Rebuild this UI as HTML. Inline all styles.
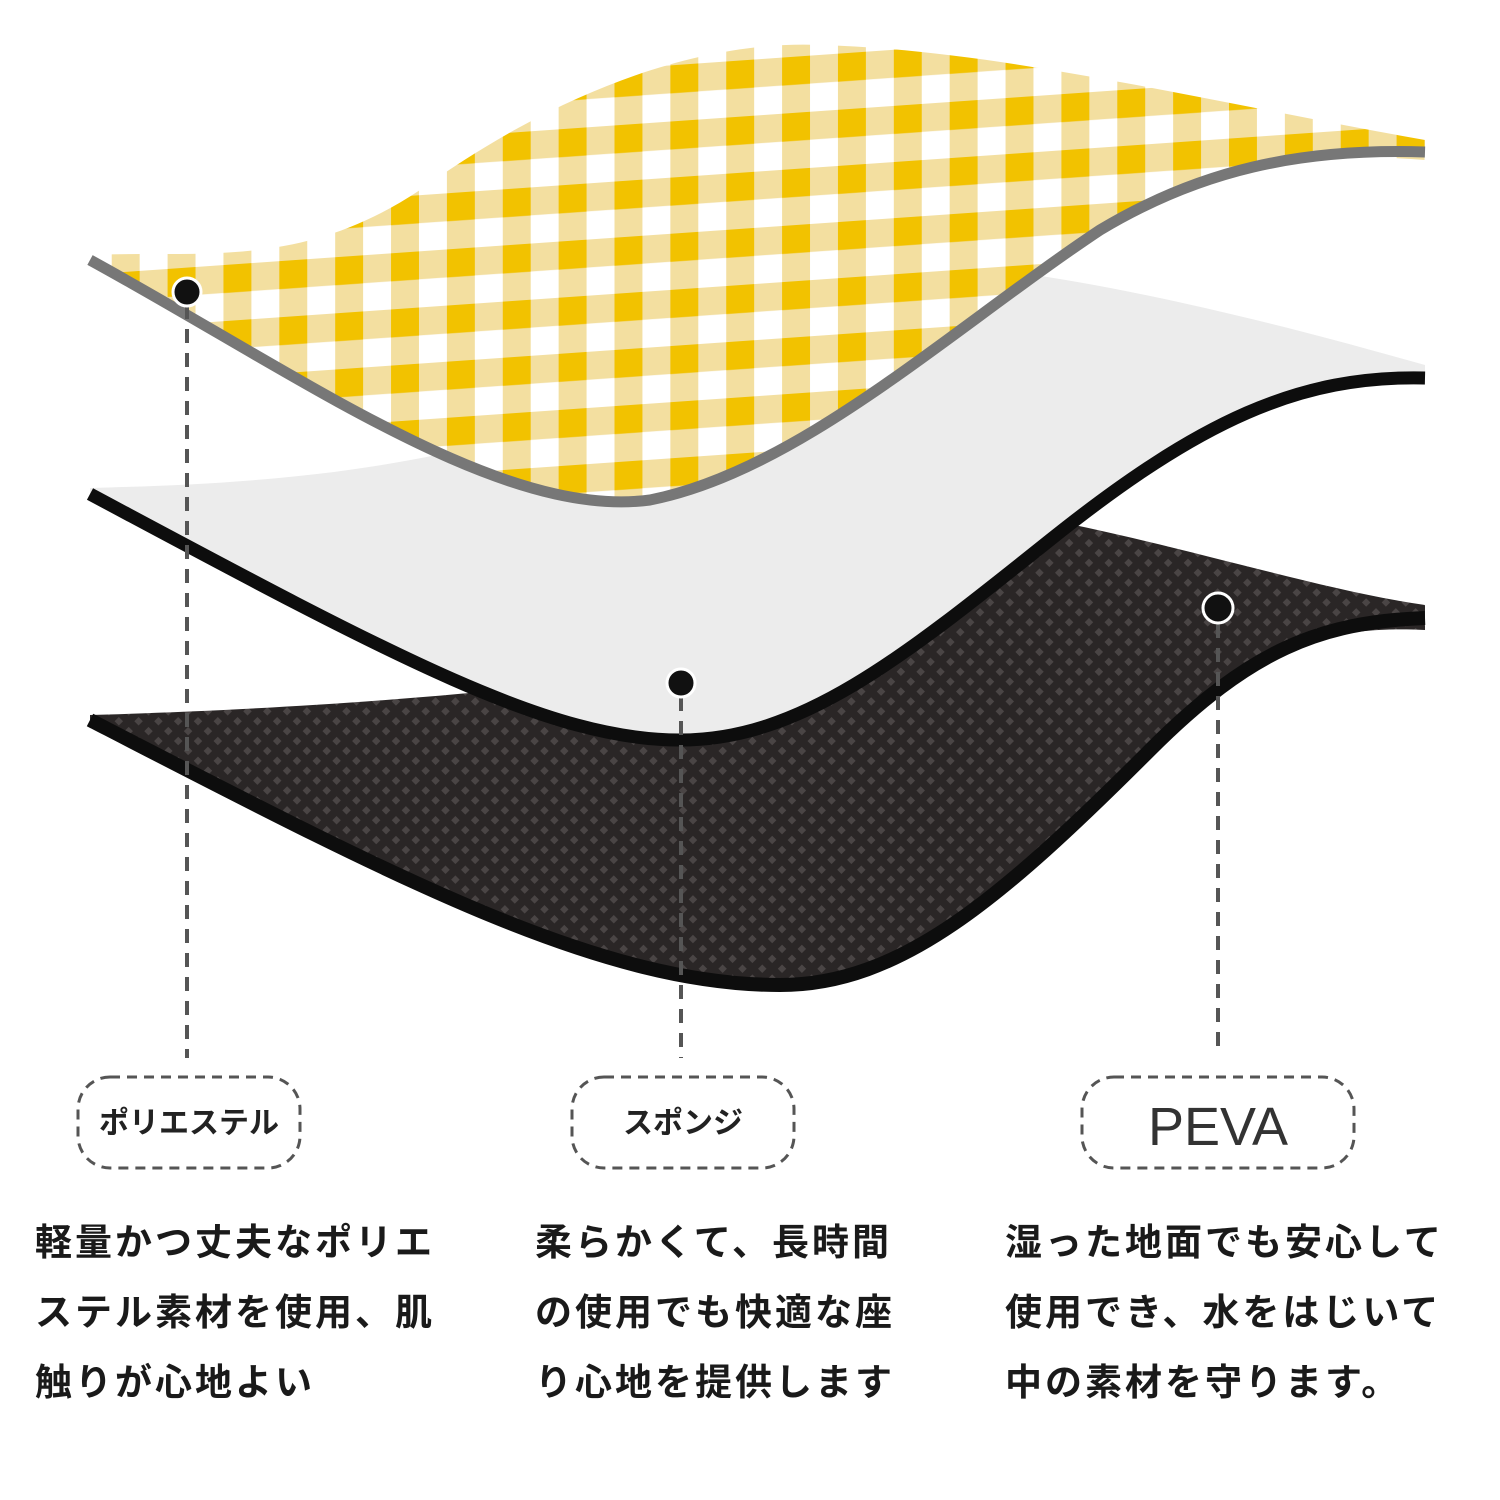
<!DOCTYPE html>
<html><head><meta charset="utf-8"><style>
html,body{margin:0;padding:0;background:#fff}
svg{display:block}
text{font-family:"Liberation Sans","Noto Sans CJK JP",sans-serif}
.b{font-size:37px;font-weight:bold;fill:#1a1a1a;letter-spacing:3px}
</style></head><body>
<svg width="1500" height="1500" viewBox="0 0 1500 1500" xmlns="http://www.w3.org/2000/svg">
<defs>
<pattern id="ging" width="56" height="56" patternUnits="userSpaceOnUse" patternTransform="rotate(-4) skewX(-4)">
<rect width="56" height="56" fill="#fdfaf0"/>
<rect x="0" y="0" width="28" height="56" fill="#f3dfa0"/>
<rect x="0" y="0" width="56" height="28" fill="#f3dfa0"/>
<rect x="0" y="0" width="28" height="28" fill="#f2c200"/>
<rect x="28" y="28" width="28" height="28" fill="#ffffff"/>
</pattern>
<pattern id="mesh" width="14" height="14" patternUnits="userSpaceOnUse" patternTransform="rotate(45)">
<rect width="14" height="14" fill="#2a2626"/>
<rect x="3" y="3" width="6" height="6" fill="#4a4545"/>
</pattern>
</defs>

<!-- dark layer -->
<path d="M90,715 C200,712 350,705 500,690 L1050,520 C1200,550 1320,590 1425,605 L1425,630 C1320,625 1250,650 1150,750 C1000,900 900,985 780,985 C600,985 400,880 90,725 Z" fill="url(#mesh)"/>
<path d="M90,720 C400,880 600,985 780,985 C900,985 1000,900 1150,750 C1250,650 1320,622 1425,618" fill="none" stroke="#0d0d0d" stroke-width="14"/>

<!-- white layer -->
<path d="M90,488 C200,485 350,480 500,440 L1000,270 C1150,290 1300,330 1425,365 L1425,385 C1300,370 1200,420 1050,540 C900,660 800,740 680,740 C550,740 400,660 90,500 Z" fill="#ececec"/>
<path d="M90,494 C400,660 550,740 680,740 C800,740 900,660 1050,540 C1200,420 1300,375 1425,378" fill="none" stroke="#0d0d0d" stroke-width="13"/>

<!-- yellow layer -->
<path d="M90,255 C200,250 300,270 420,190 C560,90 700,40 820,45 C1000,50 1200,100 1425,140 L1425,160 C1300,150 1200,170 1100,230 C950,330 800,470 650,500 C500,525 300,380 90,265 Z" fill="url(#ging)"/>
<path d="M90,260 C300,375 500,520 650,500 C800,470 950,330 1100,230 C1200,170 1300,148 1425,152" fill="none" stroke="#777" stroke-width="11"/>

<!-- dashed lines -->
<g stroke="#555" stroke-width="4" stroke-dasharray="14 10" fill="none">
<line x1="187" y1="305" x2="187" y2="1058"/>
<line x1="681" y1="697" x2="681" y2="1058"/>
<line x1="1218" y1="624" x2="1218" y2="1052"/>
</g>
<circle cx="187" cy="292" r="14" fill="#111" stroke="#fff" stroke-width="3"/>
<circle cx="681" cy="683" r="14" fill="#111" stroke="#fff" stroke-width="3"/>
<circle cx="1218" cy="608" r="15" fill="#111" stroke="#fff" stroke-width="3"/>

<!-- label boxes -->
<g stroke="#555" stroke-width="3" stroke-dasharray="10 7" fill="none">
<rect x="78" y="1077" width="222" height="91" rx="32"/>
<rect x="572" y="1077" width="222" height="91" rx="32"/>
<rect x="1082" y="1077" width="272" height="91" rx="32"/>
</g>
<text x="189" y="1133" text-anchor="middle" font-size="30" font-weight="bold" fill="#222">ポリエステル</text>
<text x="683" y="1133" text-anchor="middle" font-size="30" font-weight="bold" fill="#222">スポンジ</text>
<text x="1218" y="1145" text-anchor="middle" font-size="54" fill="#333">PEVA</text>

<!-- body text -->
<text class="b" x="35" y="1255">軽量かつ丈夫なポリエ</text>
<text class="b" x="35" y="1325">ステル素材を使用、肌</text>
<text class="b" x="35" y="1395">触りが心地よい</text>
<text class="b" x="535" y="1255">柔らかくて、長時間</text>
<text class="b" x="535" y="1325">の使用でも快適な座</text>
<text class="b" x="535" y="1395">り心地を提供します</text>
<text class="b" x="1005" y="1255">湿った地面でも安心して</text>
<text class="b" x="1005" y="1325">使用でき、水をはじいて</text>
<text class="b" x="1005" y="1395">中の素材を守ります。</text>
</svg>
</body></html>
